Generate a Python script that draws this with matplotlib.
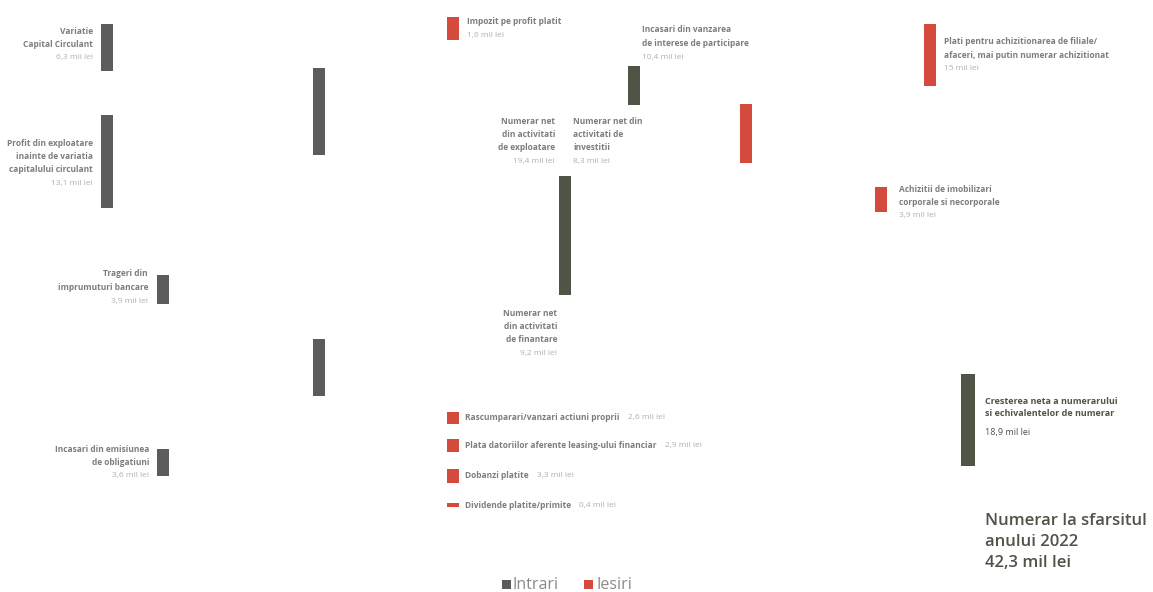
import matplotlib.pyplot as plt
from matplotlib.patches import Rectangle

plt.rcParams['font.family'] = ['Open Sans', 'DejaVu Sans']

GRAY = '#5c5c5c'
OLIVE = '#4e5446'
RED = '#d44a3c'
TXT = '#7d7d7d'
VAL = '#b0b0b0'

# noduri: nume, valoare afisata, tip (intrare / iesire)
names = [
    "Variatie\nCapital Circulant",
    "Profit din exploatare\ninainte de variatia\ncapitalului circulant",
    "Trageri din\nimprumuturi bancare",
    "Incasari din emisiunea\nde obligatiuni",
    "", "",
    "Impozit pe profit platit",
    "Incasari din vanzarea\nde interese de participare",
    "",
    "",
    "Plati pentru achizitionarea de filiale/\nafaceri, mai putin numerar achizitionat",
    "Achizitii de imobilizari\ncorporale si necorporale",
]
values = ["6,3", "13,1", "3,9", "3,6", "", "", "1,6", "10,4", "", "", "15", "3,9"]
kinds = ["in", "in", "in", "in", "in", "in", "out", "in2", "out", "in2", "out", "out"]

# asezare noduri (x stanga, y sus, y jos) in pixeli
node_x = [101, 101, 157, 157, 313, 313, 447, 628, 740, 559, 924, 875]
node_top = [24, 115, 275, 449, 68, 339, 17, 66, 104, 176, 24, 187]
node_bot = [71, 208, 304, 476, 155, 396, 40, 105, 163, 295, 86, 212]
node_w = 12

# etichete: x, y, aliniere
label_pos = [
    (93, 31, 'right'), (93, 143, 'right'), (148, 274, 'right'), (149, 449, 'right'),
    None, None,
    (467, 22, 'left'), (642, 30, 'left'), None, None,
    (944, 42, 'left'), (899, 189, 'left'),
]

# iesiri din activitatea de finantare
fin_out = ["Rascumparari/vanzari actiuni proprii", "Plata datoriilor aferente leasing-ului financiar",
           "Dobanzi platite", "Dividende platite/primite"]
fin_val = ["2,6", "2,9", "3,3", "0,4"]
fin_y = [412, 439, 469, 503]
fin_h = [12, 13, 14, 4]

col_color = {"in": GRAY, "in2": OLIVE, "out": RED}

fig = plt.figure(figsize=(11.53, 5.92), dpi=100)
ax = fig.add_axes([0, 0, 1, 1])
ax.set_xlim(0, 1153)
ax.set_ylim(592, 0)
ax.axis('off')

LH = 13.5
FS = 6.0

def block(x, y, lines, val, ha, size=FS, color=TXT, vcolor=VAL, lh=LH):
    for i, ln in enumerate(lines):
        ax.text(x, y + i * lh, ln, ha=ha, va='center', fontsize=size,
                fontweight='bold', color=color)
    if val:
        ax.text(x, y + len(lines) * lh, val + " mil lei", ha=ha, va='center',
                fontsize=size, color=vcolor)

for i in range(len(names)):
    ax.add_patch(Rectangle((node_x[i], node_top[i]), node_w, node_bot[i] - node_top[i],
                           color=col_color[kinds[i]], lw=0))
    if label_pos[i] is not None:
        x, y, ha = label_pos[i]
        block(x, y, names[i].split("\n"), values[i], ha)

block(555, 121, ["Numerar net", "din activitati", "de exploatare"], "19,4", 'right')
block(573, 121, ["Numerar net din", "activitati de", "investitii"], "8,3", 'left')
block(557, 313, ["Numerar net", "din activitati", "de finantare"], "9,2", 'right')

for name, v, y, h in zip(fin_out, fin_val, fin_y, fin_h):
    ax.add_patch(Rectangle((447, y), 12, h, color=RED, lw=0))
    t = ax.text(465, y + h / 2, name, ha='left', va='center', fontsize=FS,
                fontweight='bold', color=TXT)
    ax.annotate(v + " mil lei", xy=(1, 0.5), xycoords=t, xytext=(6, 0),
                textcoords='offset points', ha='left', va='center',
                fontsize=FS, color=VAL)

# cresterea neta a numerarului
ax.add_patch(Rectangle((961, 374), 14, 92, color=OLIVE, lw=0))
block(985, 401, ["Cresterea neta a numerarului", "si echivalentelor de numerar"], None,
      'left', size=6.5, color=OLIVE, lh=13)
ax.text(985, 432, "18,9 mil lei", ha='left', va='center', fontsize=6.5, color=OLIVE)

for k, line in enumerate(["Numerar la sfarsitul", "anului 2022", "42,3 mil lei"]):
    ax.text(985, 521 + 21 * k, line, ha='left', va='center', fontsize=12.0,
            fontweight='semibold', color=OLIVE)

# legenda
ax.add_patch(Rectangle((502, 580), 9, 9, color=GRAY, lw=0))
ax.text(513, 585, "Intrari", ha='left', va='center', fontsize=11.5, color='#8a8a8a')
ax.add_patch(Rectangle((584, 580), 9, 9, color=RED, lw=0))
ax.text(596, 585, "Iesiri", ha='left', va='center', fontsize=11.5, color='#8a8a8a')

fig.savefig("out.png", dpi=100)
